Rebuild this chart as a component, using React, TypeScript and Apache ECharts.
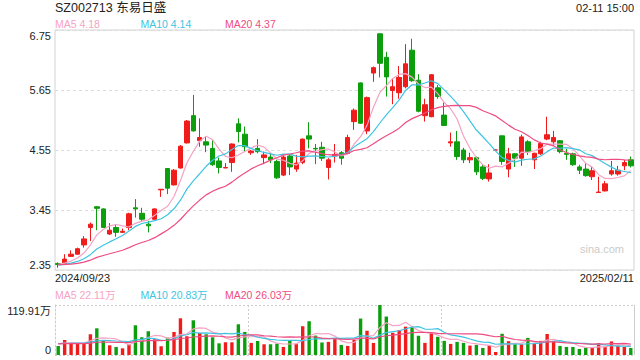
import React, { useEffect, useRef } from "react";
import * as echarts from "echarts";

const dates = [
  "2024-09-23","2024-09-24","2024-09-25","2024-09-26","2024-09-27","2024-09-30",
  "2024-10-08","2024-10-09","2024-10-10","2024-10-11","2024-10-14","2024-10-15","2024-10-16","2024-10-17","2024-10-18",
  "2024-10-21","2024-10-22","2024-10-23","2024-10-24","2024-10-25","2024-10-28","2024-10-29","2024-10-30","2024-10-31",
  "2024-11-01","2024-11-04","2024-11-05","2024-11-06","2024-11-07","2024-11-08","2024-11-11","2024-11-12","2024-11-13",
  "2024-11-14","2024-11-15","2024-11-18","2024-11-19","2024-11-20","2024-11-21","2024-11-22","2024-11-25","2024-11-26",
  "2024-11-27","2024-11-28","2024-11-29",
  "2024-12-02","2024-12-03","2024-12-04","2024-12-05","2024-12-06","2024-12-09","2024-12-10","2024-12-11","2024-12-12",
  "2024-12-13","2024-12-16","2024-12-17","2024-12-18","2024-12-19","2024-12-20","2024-12-23","2024-12-24","2024-12-25",
  "2024-12-26","2024-12-27","2024-12-30","2024-12-31",
  "2025-01-02","2025-01-03","2025-01-06","2025-01-07","2025-01-08","2025-01-09","2025-01-10","2025-01-13","2025-01-14",
  "2025-01-15","2025-01-16","2025-01-17","2025-01-20","2025-01-21","2025-01-22","2025-01-23","2025-01-24","2025-01-27",
  "2025-02-05","2025-02-06","2025-02-07","2025-02-10","2025-02-11",
];

const opens = [
  2.47, 2.45, 2.60, 2.64, 2.81, 3.13, 3.51, 3.47, 3.01, 3.13,
  3.04, 3.13, 3.49, 3.39, 3.19, 3.28, 3.82, 4.21, 3.91, 4.22,
  4.68, 5.18, 4.72, 4.70, 4.58, 4.35, 4.22, 4.32, 5.03, 4.84,
  4.50, 4.58, 4.41, 4.42, 4.34, 4.09, 4.44, 4.20, 4.32, 4.81,
  4.58, 4.60, 4.23, 4.44, 4.50, 4.49, 5.07, 5.78, 4.90, 5.96,
  6.68, 6.25, 5.64, 5.60, 5.71, 6.38, 5.83, 5.18, 5.16, 5.69,
  5.19, 4.68, 4.70, 4.55, 4.37, 4.41, 4.24, 4.02, 4.55, 4.81,
  4.20, 4.48, 4.40, 4.70, 4.37, 4.48, 4.75, 4.70, 4.72, 4.49,
  4.48, 4.24, 4.20, 4.06, 3.77, 3.80, 4.11, 4.11, 4.26, 4.37,
];
const closes = [
  2.45, 2.55, 2.64, 2.74, 2.92, 3.19, 3.48, 3.13, 3.08, 3.04,
  3.06, 3.38, 3.47, 3.28, 3.16, 3.47, 3.83, 3.85, 4.18, 4.62,
  5.08, 4.90, 4.78, 4.64, 4.28, 4.23, 4.23, 4.66, 4.89, 4.61,
  4.53, 4.52, 4.46, 4.37, 4.04, 4.42, 4.24, 4.31, 4.75, 4.75,
  4.57, 4.40, 4.37, 4.47, 4.40, 4.78, 5.28, 5.04, 5.51, 6.06,
  6.14, 5.89, 5.71, 5.88, 6.13, 5.82, 5.26, 5.38, 5.93, 5.53,
  5.00, 4.70, 4.43, 4.37, 4.41, 4.15, 4.03, 4.13, 4.55, 4.34,
  4.48, 4.40, 4.79, 4.52, 4.49, 4.67, 4.83, 4.78, 4.52, 4.47,
  4.28, 4.18, 4.08, 4.17, 3.78, 3.93, 4.17, 4.18, 4.32, 4.26,
];
const lows = [
  2.39, 2.44, 2.59, 2.63, 2.76, 2.88, 3.08, 3.12, 2.99, 2.96,
  3.03, 3.08, 3.31, 3.24, 3.04, 3.27, 3.69, 3.74, 3.90, 4.21,
  4.67, 4.89, 4.61, 4.51, 4.26, 4.12, 4.22, 4.15, 4.69, 4.52,
  4.46, 4.49, 4.29, 4.31, 4.02, 4.07, 4.09, 4.15, 4.29, 4.58,
  4.29, 4.35, 4.01, 4.32, 4.28, 4.47, 4.92, 5.03, 4.84, 5.80,
  5.88, 5.53, 5.39, 5.49, 5.68, 5.80, 5.24, 5.07, 5.15, 5.49,
  4.99, 4.61, 4.37, 4.31, 4.31, 4.09, 4.00, 3.97, 4.55, 4.28,
  4.05, 4.24, 4.26, 4.46, 4.20, 4.46, 4.73, 4.63, 4.49, 4.37,
  4.26, 4.11, 4.06, 4.00, 3.77, 3.79, 4.08, 4.08, 4.18, 4.23,
];
const highs = [
  2.49, 2.64, 2.71, 2.76, 2.97, 3.22, 3.52, 3.48, 3.21, 3.19,
  3.11, 3.40, 3.65, 3.49, 3.25, 3.48, 3.83, 4.22, 4.20, 4.64,
  5.10, 5.56, 5.13, 4.79, 4.73, 4.41, 4.31, 4.67, 5.13, 4.98,
  4.55, 4.75, 4.52, 4.49, 4.37, 4.45, 4.46, 4.46, 4.76, 5.06,
  4.66, 4.70, 4.40, 4.66, 4.53, 4.83, 5.31, 5.79, 5.53, 6.08,
  6.69, 6.35, 5.86, 6.09, 6.49, 6.59, 5.94, 5.49, 5.94, 5.74,
  5.42, 4.87, 4.90, 4.59, 4.50, 4.43, 4.28, 4.29, 4.56, 4.81,
  4.59, 4.49, 4.83, 4.73, 4.50, 4.70, 5.16, 4.90, 4.73, 4.57,
  4.50, 4.28, 4.31, 4.24, 4.06, 3.98, 4.35, 4.26, 4.37, 4.43,
];
// volume in 万 shares
const volumes = [
  21.7, 36, 29.7, 28, 28, 49.7, 64, 36, 23.3, 19.3,
  16, 25.7, 71.3, 42.5, 57, 37.7, 21, 41.7, 55.3, 88,
  45, 83.2, 53, 49.7, 42.5, 28, 30.5, 30.5, 73.7, 55.3,
  29, 33.7, 25.7, 25.7, 27.3, 19.3, 33.7, 27.3, 69, 81,
  46.5, 30, 31.5, 38, 24.2, 21.8, 36.3, 87.4, 58.2, 29,
  119.91, 92.2, 53.3, 59.8, 67.9, 67.1, 46.1, 29, 53.3, 43.6,
  33.9, 26.6, 31.5, 29, 22.6, 24.2, 16.9, 22.6, 7.2, 50.9,
  33.1, 25.8, 25.8, 41, 27.4, 33.9, 50.3, 33.9, 21.8, 19.3,
  19.3, 14.5, 16.9, 18.5, 28.5, 19.3, 32.5, 22.6, 19.3, 16.9,
];
// sessions before the first visible day (used only for the moving averages)
const priorCloses = [2.50, 2.49, 2.48, 2.47, 2.46, 2.45, 2.44, 2.43, 2.42, 2.42, 2.41, 2.42, 2.43, 2.44, 2.43, 2.44, 2.45, 2.46, 2.47];
const priorVolumes = [25, 28, 24, 30, 26, 22, 27, 29, 25, 24, 31, 26, 23, 28, 27, 30, 26, 28, 31];

const priceTicks = [2.35, 3.45, 4.55, 5.65, 6.75];
const volumeTicks = [0, 119.91];
const maPeriods = [5, 10, 20];
const maNames = ["MA5", "MA10", "MA20"];
const priceMaLabels = ["4.18", "4.14", "4.37"];
const volumeMaLabels = ["22.11万", "20.83万", "26.03万"];
const titleText = "SZ002713 东易日盛";
const timeText = "02-11 15:00";
const startLabel = "2024/09/23";
const endLabel = "2025/02/11";

const MA_COLORS = ["#f5a3c4", "#3ec4e2", "#ee4c82"];
const UP = "#f01c1c";
const DOWN = "#0c9e0c";
const FONT = '"Liberation Sans", Arial, "Noto Sans CJK SC", sans-serif';

const G_LEFT = 55;
const G_RIGHT = 634;
const P_TOP = 30;
const P_H = 240;
const V_TOP = 305;
const V_H = 50;

function movingAverage(values: number[], prior: number[], n: number) {
  const all = prior.concat(values);
  return values.map((_, i) => {
    const end = prior.length + i;
    let s = 0;
    for (let k = end - n + 1; k <= end; k++) s += all[k];
    return +(s / n).toFixed(4);
  });
}

export default function App() {
  const ref = useRef<HTMLDivElement>(null);
  useEffect(() => {
    if (!ref.current) return;
    const chart = echarts.init(ref.current, undefined, { renderer: "svg" });
    const candles = dates.map((_, i) => [opens[i], closes[i], lows[i], highs[i]]);
    const volData = volumes.map((v, i) => ({
      value: v,
      itemStyle: { color: closes[i] >= opens[i] ? UP : DOWN },
    }));
    const priceMA = maPeriods.map((n) => movingAverage(closes, priorCloses, n));
    const volMA = maPeriods.map((n) => movingAverage(volumes, priorVolumes, n));

    const legendTexts: any[] = [];
    const legendX = [55, 140.5, 225];
    maNames.forEach((name, k) => {
      legendTexts.push({
        type: "text", x: legendX[k], y: 24,
        style: { text: name + " " + priceMaLabels[k], fill: MA_COLORS[k], fontSize: 10.5, fontFamily: FONT, textVerticalAlign: "middle" },
      });
      legendTexts.push({
        type: "text", x: legendX[k], y: 295,
        style: { text: name + " " + volumeMaLabels[k], fill: MA_COLORS[k], fontSize: 10.5, fontFamily: FONT, textVerticalAlign: "middle" },
      });
    });

    const option: any = {
      animation: false,
      backgroundColor: "#ffffff",
      textStyle: { fontFamily: FONT },
      grid: [
        { left: G_LEFT, width: G_RIGHT - G_LEFT, top: P_TOP, height: P_H, show: true, borderColor: "#d2d2d2", borderWidth: 1 },
        { left: G_LEFT, width: G_RIGHT - G_LEFT, top: V_TOP, height: V_H, show: false },
      ],
      xAxis: [
        {
          type: "category", gridIndex: 0, data: dates, boundaryGap: true,
          axisLine: { show: false }, axisTick: { show: false }, axisLabel: { show: false }, splitLine: { show: false },
        },
        {
          type: "category", gridIndex: 1, data: dates, boundaryGap: true,
          axisLine: { show: false }, axisTick: { show: false }, axisLabel: { show: false },
          splitLine: { show: true, interval: (i: number) => i === 30 || i === 60, lineStyle: { color: "#cccccc", type: [2, 2], width: 1 } },
        },
      ],
      yAxis: [
        {
          type: "value", gridIndex: 0, min: priceTicks[0], max: priceTicks[priceTicks.length - 1],
          axisLine: { show: false },
          axisTick: { show: false, customValues: priceTicks },
          axisLabel: {
            customValues: priceTicks, formatter: (v: number) => v.toFixed(2),
            color: "#222", fontSize: 11, fontFamily: FONT, margin: 4,
            verticalAlignMinLabel: "bottom", verticalAlignMaxLabel: "top",
          },
          splitLine: { show: true, lineStyle: { color: "#dcdcdc", type: [3, 3], width: 1 } },
        },
        {
          type: "value", gridIndex: 1, min: volumeTicks[0], max: volumeTicks[1],
          axisLine: { show: true, lineStyle: { color: "#cccccc", type: [2, 2] } },
          axisTick: { show: false, customValues: volumeTicks },
          axisLabel: {
            customValues: volumeTicks, formatter: (v: number) => (v === 0 ? "0" : v.toFixed(2) + "万"),
            color: "#222", fontSize: 11, fontFamily: FONT, margin: 4,
            verticalAlignMinLabel: "bottom", verticalAlignMaxLabel: "top",
          },
          splitLine: { show: true, lineStyle: { color: "#cccccc", type: [2, 2], width: 1 } },
        },
      ],
      series: [
        {
          type: "candlestick", xAxisIndex: 0, yAxisIndex: 0, data: candles, barWidth: 5,
          itemStyle: { color: UP, color0: DOWN, borderColor: UP, borderColor0: DOWN, borderWidth: 1 },
        },
        ...maPeriods.map((n, k) => ({
          type: "line", xAxisIndex: 0, yAxisIndex: 0, data: priceMA[k], symbol: "none",
          lineStyle: { color: MA_COLORS[k], width: 1.2 }, z: 3,
        })),
        { type: "bar", xAxisIndex: 1, yAxisIndex: 1, data: volData, barWidth: 3.4 },
        ...maPeriods.map((n, k) => ({
          type: "line", xAxisIndex: 1, yAxisIndex: 1, data: volMA[k], symbol: "none",
          lineStyle: { color: MA_COLORS[k], width: 1.2 }, z: 3,
        })),
      ],
      graphic: [
        { type: "text", x: 55, y: 8, style: { text: titleText, fill: "#222", fontSize: 12.5, fontFamily: FONT, textVerticalAlign: "middle" } },
        { type: "text", x: G_RIGHT, y: 8, style: { text: timeText, fill: "#222", fontSize: 11, fontFamily: FONT, textAlign: "right", textVerticalAlign: "middle" } },
        { type: "text", x: 55, y: 278, style: { text: startLabel, fill: "#222", fontSize: 11, fontFamily: FONT, textVerticalAlign: "middle" } },
        { type: "text", x: G_RIGHT, y: 278, style: { text: endLabel, fill: "#222", fontSize: 11, fontFamily: FONT, textAlign: "right", textVerticalAlign: "middle" } },
        { type: "text", x: 602, y: 249, style: { text: "sina.com", fill: "#cbcbcb", fontSize: 11, fontFamily: FONT, textAlign: "center", textVerticalAlign: "middle" } },
        { type: "line", shape: { x1: G_RIGHT + 0.5, y1: V_TOP, x2: G_RIGHT + 0.5, y2: V_TOP + V_H }, style: { stroke: "#cccccc", lineWidth: 1 } },
        ...legendTexts,
      ],
    };
    chart.setOption(option);
    return () => chart.dispose();
  }, []);
  return <div ref={ref} style={{ width: 640, height: 360, position: "absolute", left: 0, top: 0 }} />;
}
